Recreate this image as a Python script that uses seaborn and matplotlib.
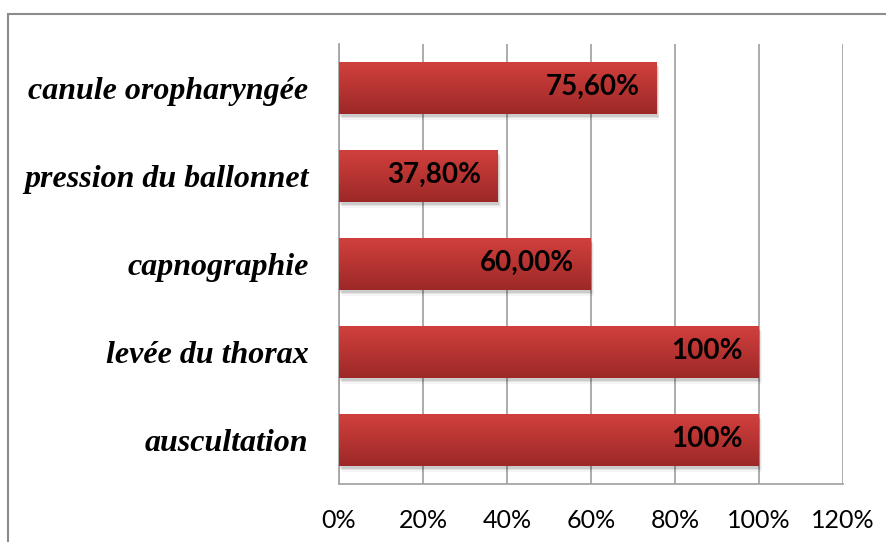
import numpy as np
import pandas as pd
import matplotlib
matplotlib.use("Agg")
import matplotlib.pyplot as plt
from matplotlib.patches import Rectangle
from matplotlib.colors import LinearSegmentedColormap
import seaborn as sns

categories = ["canule oropharyngée", "pression du ballonnet", "capnographie",
              "levée du thorax", "auscultation"]
values = [75.6, 37.8, 60.0, 100.0, 100.0]
value_labels = ["75,60%", "37,80%", "60,00%", "100%", "100%"]
ticks = [0, 20, 40, 60, 80, 100, 120]

df = pd.DataFrame({"cat": categories, "val": values})

sns.set_style("white")
fig = plt.figure(figsize=(8.86, 5.42), dpi=100)
ax = fig.add_axes([339/886, 58/542, 504/886, 440/542])

sns.barplot(data=df, y="cat", x="val", orient="h", color="#B8312F",
            width=0.59, ax=ax, zorder=3, edgecolor="none")

# gradient + shadow on each bar
grad = LinearSegmentedColormap.from_list("r", ["#D0403D", "#B73432", "#9C2927"])
for p in ax.patches:
    x0, y0 = p.get_x(), p.get_y()
    w, h = p.get_width(), p.get_height()
    for k, a in enumerate([0.10, 0.07, 0.04]):
        sh = Rectangle((x0 + 0.3 + 0.2 * k, y0 + 0.03 + 0.02 * k), w, h,
                       facecolor="#000000", alpha=a, edgecolor="none", zorder=2)
        ax.add_patch(sh)
    img = ax.imshow(np.linspace(0, 1, 100).reshape(-1, 1), cmap=grad,
                    extent=[x0, x0 + w, y0 + h, y0], aspect="auto", zorder=3.5)
    img.set_clip_path(p)

for i, (v, lab) in enumerate(zip(values, value_labels)):
    ax.annotate(lab, (v, i), xytext=(-12, 1), textcoords="offset points",
                ha="right", va="center", fontsize=20, fontweight="bold",
                family="Lato", color="black", zorder=5)

ax.set_xlim(0, 120)
ax.set_ylim(4.5, -0.5)
ax.set_xticks(ticks)
ax.set_xticklabels([f"{t}%" for t in ticks], fontsize=18, family="Lato",
                   color="black")
ax.set_yticks(range(len(categories)))
ax.set_yticklabels(categories, fontsize=23, family="Liberation Serif",
                   fontstyle="italic", fontweight="bold", color="black")
ax.tick_params(axis="x", length=0, pad=18)
ax.tick_params(axis="y", length=0, pad=22)
ax.set_xlabel("")
ax.set_ylabel("")
ax.grid(axis="x", color="#A6A6A6", linewidth=1.3, zorder=0)
ax.set_axisbelow(True)
for s in ["top", "right"]:
    ax.spines[s].set_visible(False)
for s in ["left", "bottom"]:
    ax.spines[s].set_color("#A6A6A6")
    ax.spines[s].set_linewidth(1.3)

# outer chart border
fig.patches.append(Rectangle((8/886, -0.1), 1.2, (542 - 14)/542 + 0.1,
                             transform=fig.transFigure, fill=False,
                             edgecolor="#8C8C8C", linewidth=1.5))

fig.savefig("out.png", dpi=100)
